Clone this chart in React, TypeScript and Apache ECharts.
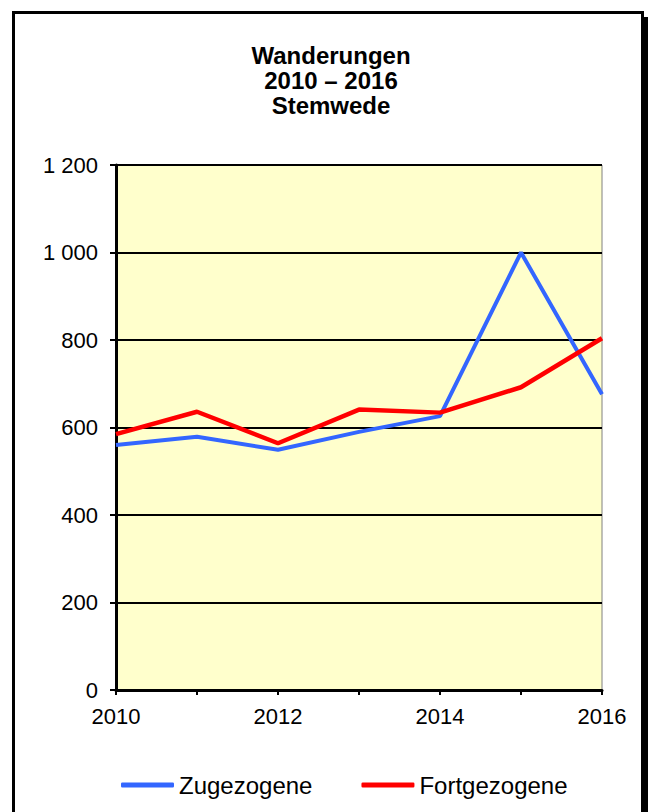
import React, { useEffect, useRef } from "react";
import * as echarts from "echarts";

const years = ["2010", "2011", "2012", "2013", "2014", "2015", "2016"];
const zugezogene = [560, 579, 549, 590, 626, 1000, 676];
const fortgezogene = [585, 636, 564, 641, 634, 692, 804];
const titleLines = ["Wanderungen", "2010 – 2016", "Stemwede"];
const seriesNames = ["Zugezogene", "Fortgezogene"];

const FONT = "'Liberation Sans', Arial, sans-serif";

export default function App() {
  const ref = useRef<HTMLDivElement>(null);
  useEffect(() => {
    if (!ref.current) return;
    const chart = echarts.init(ref.current, null, { renderer: "svg" });
    chart.setOption({
      animation: false,
      backgroundColor: "#ffffff",
      graphic: [
        {
          type: "rect",
          z: -20,
          silent: true,
          shape: { x: 20, y: 17, width: 630, height: 820 },
          style: { fill: "#000000" },
        },
        {
          type: "rect",
          z: -10,
          silent: true,
          shape: { x: 13.5, y: 12.5, width: 629, height: 830 },
          style: { fill: "#ffffff", stroke: "#000000", lineWidth: 3 },
        },
      ],
      title: {
        text: titleLines.join("\n"),
        left: 331,
        textAlign: "center",
        top: 43,
        padding: 0,
        textStyle: {
          fontFamily: FONT,
          fontWeight: "bold",
          fontSize: 24,
          lineHeight: 25,
          color: "#000000",
        },
      },
      legend: {
        left: 121,
        top: 773,
        padding: 0,
        icon: "roundRect",
        itemWidth: 53,
        itemHeight: 5,
        itemGap: 49,
        textStyle: { fontFamily: FONT, fontSize: 24, color: "#000000" },
        data: seriesNames,
      },
      grid: {
        left: 116,
        top: 165,
        width: 486,
        height: 525,
        show: true,
        backgroundColor: "#FFFFCC",
        borderColor: "#808080",
        borderWidth: 1,
      },
      xAxis: {
        type: "category",
        data: years,
        boundaryGap: false,
        axisLine: { show: true, lineStyle: { color: "#000000", width: 3 } },
        axisTick: { show: true, length: 5, interval: 0, lineStyle: { color: "#000000", width: 2 } },
        axisLabel: {
          interval: 1,
          margin: 15,
          fontFamily: FONT,
          fontSize: 22,
          color: "#000000",
        },
        splitLine: { show: false },
      },
      yAxis: {
        type: "value",
        min: 0,
        max: 1200,
        interval: 200,
        axisLine: { show: true, lineStyle: { color: "#000000", width: 3 } },
        axisTick: { show: true, length: 6, lineStyle: { color: "#000000", width: 2 } },
        axisLabel: {
          margin: 18,
          fontFamily: FONT,
          fontSize: 22,
          color: "#000000",
          formatter: (v: number) => {
            const s = String(v);
            return s.length > 3 ? s.slice(0, s.length - 3) + " " + s.slice(-3) : s;
          },
        },
        splitLine: { show: true, lineStyle: { color: "#000000", width: 2 } },
      },
      series: [
        {
          name: seriesNames[0],
          type: "line",
          data: zugezogene,
          symbol: "none",
          color: "#3366FF",
          lineStyle: { color: "#3366FF", width: 4 },
        },
        {
          name: seriesNames[1],
          type: "line",
          data: fortgezogene,
          symbol: "none",
          color: "#FF0000",
          lineStyle: { color: "#FF0000", width: 4.5 },
        },
      ],
    });
    return () => chart.dispose();
  }, []);
  return (
    <div
      ref={ref}
      style={{ position: "fixed", left: 0, top: 0, width: 648, height: 812 }}
    />
  );
}
